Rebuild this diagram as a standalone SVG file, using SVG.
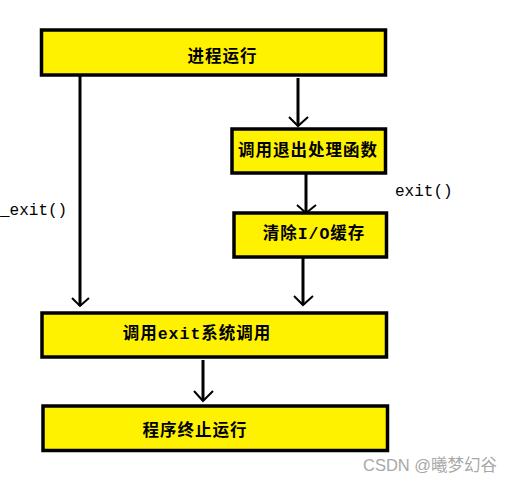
<svg xmlns="http://www.w3.org/2000/svg" width="515" height="483" viewBox="0 0 515 483">
<style>
.box{fill:#fff200;stroke:#000;stroke-width:3.5}
.t{font-family:"Noto Sans CJK SC","Liberation Sans",sans-serif;font-weight:bold;font-size:16.5px;fill:#000;text-anchor:middle;letter-spacing:1px}
.m{font-family:"Liberation Mono",monospace}
.lbl{font-family:"Liberation Mono",monospace;font-size:16px;fill:#000}
.ln{stroke:#000;stroke-width:3;fill:none}
.hd{stroke:#000;stroke-width:2;fill:none}
.wm{font-family:"Liberation Sans","Noto Sans CJK SC",sans-serif;font-size:16.5px;fill:#a8a8a8}
</style>
<rect width="515" height="483" fill="#fff"/>
<g id="connectors">
<line class="ln" x1="80" y1="75" x2="80" y2="306"/>
<polyline class="hd" points="72,298 80,306 89,298"/>
<line class="ln" x1="298" y1="78" x2="298" y2="126"/>
<polyline class="hd" points="289,117 298,126 308,117"/>
<line class="ln" x1="306" y1="173" x2="306" y2="213"/>
<polyline class="hd" points="297,205 306,213 316,205"/>
<line class="ln" x1="303" y1="257" x2="303" y2="305"/>
<polyline class="hd" points="294,296 303,305 313,296"/>
<line class="ln" x1="203" y1="360" x2="203" y2="401"/>
<polyline class="hd" points="194,391 203,401 213,391"/>
</g>
<g id="label-_exit"><text class="lbl" x="0" y="215">_exit()</text></g>
<g id="label-exit"><text class="lbl" x="395" y="196">exit()</text></g>
<g id="n1"><rect class="box" x="41.5" y="30" width="344" height="45"/><text class="t" x="222.5" y="61.5">进程运行</text></g>
<g id="n2"><rect class="box" x="232" y="129" width="153.5" height="44"/><text class="t" x="308" y="156">调用退出处理函数</text></g>
<g id="n3"><rect class="box" x="234" y="213" width="152.5" height="44"/><text class="t" x="314" y="239">清除<tspan class="m">I/O</tspan>缓存</text></g>
<g id="n4"><rect class="box" x="42" y="313" width="344.5" height="44"/><text class="t" x="197" y="338.5">调用<tspan class="m">exit</tspan>系统调用</text></g>
<g id="n5"><rect class="box" x="43" y="406" width="344.5" height="44.5"/><text class="t" x="195" y="436">程序终止运行</text></g>
<text class="wm" x="363" y="471">CSDN @曦梦幻谷</text>
</svg>
